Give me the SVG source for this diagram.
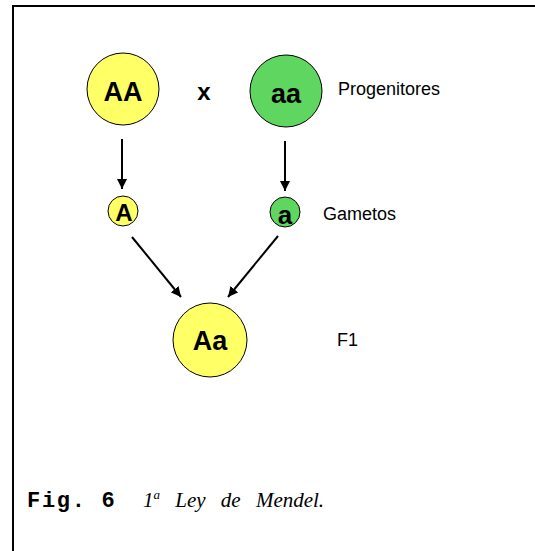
<svg xmlns="http://www.w3.org/2000/svg" width="535" height="551" viewBox="0 0 535 551">
<defs>
<marker id="ah" viewBox="0 0 10 10" refX="10" refY="5" markerWidth="10" markerHeight="10" markerUnits="userSpaceOnUse" orient="auto">
<path d="M0,0 L10,5 L0,10 z" fill="#000"/>
</marker>
<style>
.y{fill:#FFFF66;stroke:#000;stroke-width:1}
.g{fill:#5FD65F;stroke:#000;stroke-width:1}
.t{font-family:"Liberation Sans",Arial,sans-serif;font-weight:bold;fill:#000;text-anchor:middle}
.l{font-family:"Liberation Sans",Arial,sans-serif;font-size:18px;fill:#000}
.c{stroke:#000;stroke-width:2;fill:none;marker-end:url(#ah)}
</style>
</defs>
<rect width="535" height="551" fill="#fff"/>
<path d="M13,551 V6 H535" fill="none" stroke="#000" stroke-width="2"/>
<g id="AA"><circle class="y" cx="123" cy="89" r="36"/><text class="t" x="123" y="101" font-size="27">AA</text></g>
<g id="x"><text class="t" x="204" y="100" font-size="24">x</text></g>
<g id="aa"><circle class="g" cx="286" cy="91" r="36"/><text class="t" x="286" y="103" font-size="27">aa</text></g>
<g id="progenitores"><text class="l" x="338" y="95">Progenitores</text></g>
<g id="A"><circle class="y" cx="123" cy="211" r="15"/><text class="t" x="124" y="221" font-size="24">A</text></g>
<g id="a"><circle class="g" cx="285" cy="212" r="15"/><text class="t" x="285" y="224" font-size="26">a</text></g>
<g id="gametos"><text class="l" x="323" y="220">Gametos</text></g>
<g id="Aa"><circle class="y" cx="210" cy="340" r="37"/><text class="t" x="210" y="350" font-size="27">Aa</text></g>
<g id="f1"><text class="l" x="337" y="346">F1</text></g>
<g id="connectors">
<line class="c" x1="122" y1="139" x2="122" y2="189"/>
<line class="c" x1="285" y1="141" x2="285" y2="191"/>
<line class="c" x1="132" y1="237" x2="181" y2="297"/>
<line class="c" x1="278" y1="236" x2="228" y2="297"/>
</g>
<g id="caption">
<text x="27" y="507" font-family="'Liberation Mono','Courier New',monospace" font-weight="bold" font-size="22" letter-spacing="1.7">Fig. 6</text>
<text x="143" y="507" font-family="'Liberation Serif','Times New Roman',serif" font-style="italic" font-size="21" word-spacing="10">1<tspan font-size="13" dy="-8">a</tspan><tspan dy="8"> Ley de Mendel.</tspan></text>
</g>
</svg>
